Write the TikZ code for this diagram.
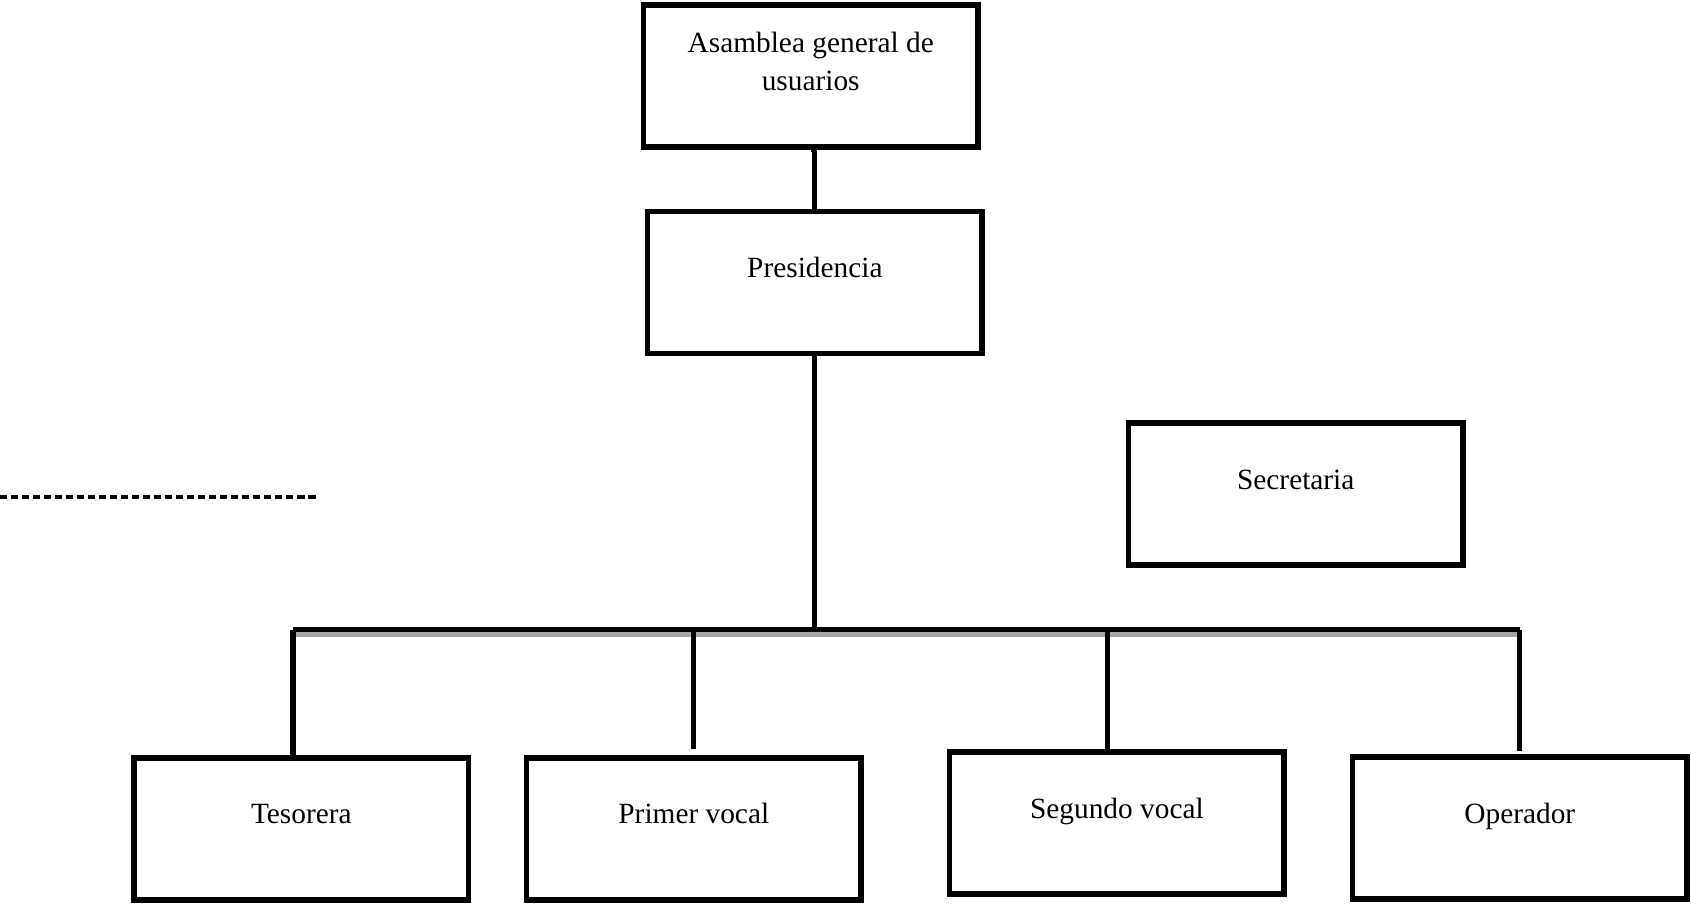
\documentclass[tikz,border=0pt]{standalone}
\usepackage{fontspec}
\setmainfont{Liberation Serif}
\usetikzlibrary{positioning,calc}

\begin{document}
\begin{tikzpicture}[
  font=\fontsize{12}{15.3}\selectfont,
  box/.style={draw, line width=2.3pt, inner sep=0pt, align=center, fill=white,
    minimum width=48.1mm, minimum height=20.4mm, text height=27pt, text depth=31.1pt},
  link/.style={line width=2.1pt},
  shade/.style={line width=2pt, black!35},
  dashline/.style={line width=1.6pt, dash pattern=on 3pt off 1.5pt}
]
\useasboundingbox (0,0) rectangle (243mm,-129.8mm);

% --- Upper levels ------------------------------------------------------------
\node[box, text height=35pt, text depth=23.1pt] (asam) at (116.5mm,-10.9mm) {Asamblea general de\\usuarios};
\node[box] (pres) at (117.1mm,-40.6mm) {Presidencia};
\node[box] (secr) at (186.2mm,-71mm) {Secretaria};

% --- Bottom row --------------------------------------------------------------
\node[box] (teso) at (43.3mm,-119.1mm) {Tesorera};
\node[box] (prim) at (99.7mm,-119.1mm) {Primer vocal};
\node[box] (segu) at (160.5mm,-118.3mm) {Segundo vocal};
\node[box] (oper) at (218.4mm,-119.0mm) {Operador};

% --- Connectors --------------------------------------------------------------
\coordinate (bar) at (0,-90.5mm);
\coordinate (tesotop) at ([xshift=-1.2mm]teso.north);
\coordinate (segutop) at ([xshift=-1.3mm]segu.north);
\draw[link] (asam.south) -- (asam.south -| pres.north) -- (pres.north);
\draw[link] (pres.south) -- (pres.south |- bar);

\draw[shade] ([yshift=-0.65mm]tesotop |- bar) -- ([yshift=-0.65mm]oper.north |- bar);
\draw[link] (tesotop |- bar) -- (oper.north |- bar);

\draw[link] (tesotop |- bar) -- (tesotop);
\draw[link] (prim.north |- bar) -- ([yshift=0.8mm]prim.north);
\draw[link] (segutop |- bar) -- (segutop);
\draw[link] (oper.north |- bar) -- ([yshift=0.5mm]oper.north);

% --- Loose dashed line -------------------------------------------------------
\coordinate (dl) at (0,-71.4mm);
\coordinate (dr) at (45.4mm,-71.4mm);
\draw[dashline] (dl) -- (dr);

\end{tikzpicture}
\end{document}
